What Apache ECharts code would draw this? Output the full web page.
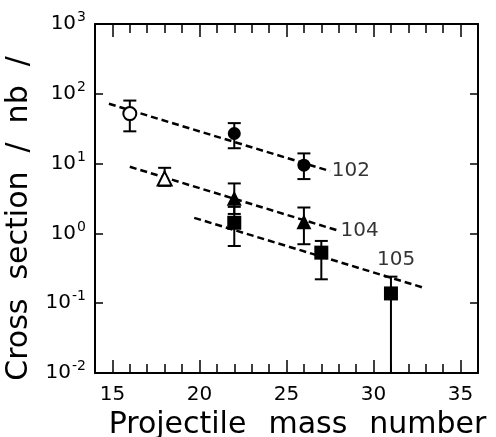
<!DOCTYPE html>
<html>
<head>
<meta charset="utf-8">
<script src="https://cdn.jsdelivr.net/npm/echarts@6/dist/echarts.min.js"></script>
<style>
html, body { margin: 0; padding: 0; background: #fff; }
#main { width: 496px; height: 437px; }
</style>
</head>
<body>
<div id="main"></div>
<script>
// x tick labels
const xLabels = [15, 20, 25, 30, 35];
const xMinor = [14, 15, 16, 17, 18, 19, 20, 21, 22, 23, 24, 25, 26, 27, 28, 29, 30, 31, 32, 33, 34, 35, 36];

// measured points: [mass number, cross section nb]
const openCircle = [[16, 52]];
const fullCircle = [[22, 27], [26, 9.5]];
const openTriangle = [[18, 6.1]];
const fullTriangle = [[22, 3.2], [26, 1.47]];
const fullSquare = [[22, 1.42], [27, 0.53], [31, 0.138]];

// error bars: [x, low, high]
const errBars = [
  [16, 29, 80],
  [22, 16.6, 38],
  [26, 6, 14],
  [18, 4.8, 8.7],
  [22, 1.9, 5.2],
  [26, 0.70, 2.35],
  [22, 0.66, 2.4],
  [27, 0.22, 0.78],
  [31, 0.01, 0.24]
];

// dashed trend lines (end points)
const line102 = [[14.8, 72], [27.5, 7.8]];
const line104 = [[16.0, 9.0], [27.9, 1.11]];
const line105 = [[19.7, 1.67], [32.9, 0.166]];

// element labels
const tags = [
  { name: '102', value: [27.6, 7.8], pos: 'right' },
  { name: '104', value: [28.1, 1.08], pos: 'right' },
  { name: '105', value: [31.3, 0.42], pos: 'inside' }
];

const font = 'DejaVu Sans';
const black = '#000';

function xAx(pos, ticks, len, showLine, showLabel) {
  return {
    type: 'value', position: pos, min: 14, max: 36, interval: 1,
    axisLine: { show: showLine, lineStyle: { color: black, width: 2 } },
    axisTick: { show: true, inside: true, length: len, customValues: ticks, lineStyle: { color: black, width: 1.5 } },
    axisLabel: {
      show: showLabel, customValues: xLabels, margin: 12,
      color: black, fontFamily: font, fontSize: 20
    },
    splitLine: { show: false }
  };
}

function yAx(pos, showLabel) {
  return {
    type: 'log', logBase: 10, position: pos, min: 0.01, max: 1000,
    axisLine: { show: true, lineStyle: { color: black, width: 2 } },
    axisTick: { show: true, inside: true, length: 8, lineStyle: { color: black, width: 1.5 } },
    minorTick: { show: false },
    splitLine: { show: false },
    axisLabel: {
      show: showLabel, margin: 9, color: black, fontFamily: font, fontSize: 20,
      formatter: function (v) {
        const e = Math.round(Math.log10(v));
        return '{b|10}{s|' + e + '}';
      },
      rich: {
        b: { color: black, fontFamily: font, fontSize: 20 },
        s: { color: black, fontFamily: font, fontSize: 14, padding: [0, 0, 13, 1] }
      }
    }
  };
}

const dash = { color: black, width: 2.5, type: [7, 4] };
function trend(d) {
  return { type: 'line', data: d, symbol: 'none', lineStyle: dash, silent: true, z: 2 };
}

function marker(d, symbol, size, filled) {
  return {
    type: 'scatter', data: d, symbol: symbol, symbolSize: size, z: 5,
    itemStyle: { color: filled ? black : '#fff', borderColor: black, borderWidth: filled ? 0 : 2, opacity: 1 }
  };
}

const nameFont = { color: black, fontFamily: font, fontSize: 30 };

let option = {
  backgroundColor: '#fff',
  animation: false,
  grid: { left: 95, right: 18, top: 24, bottom: 64, containLabel: false, outerBoundsMode: 'none' },
  xAxis: [
    Object.assign(xAx('bottom', xMinor, 9, true, true), {
      name: '{t|Projectile}{g| }{t|mass}{g| }{t|number}',
      nameLocation: 'middle', nameGap: 26,
      nameTextStyle: {
        padding: [0, 0, 0, 22],
        rich: { t: nameFont, g: { fontSize: 30, width: 22 } }
      }
    }),
    xAx('bottom', xLabels, 13, false, false),
    xAx('top', xMinor, 9, true, false),
    xAx('top', xLabels, 13, false, false)
  ],
  yAxis: [
    Object.assign(yAx('left', true), {
      name: '{t|Cross}{g| }{t|section}{g| }{t|/}{g| }{t|nb}{g| }{t|/}',
      nameLocation: 'middle', nameGap: 56,
      nameTextStyle: {
        padding: [0, 40, 0, 0],
        rich: { t: { color: black, fontFamily: font, fontSize: 30 }, g: { fontSize: 30, width: 19 } }
      }
    }),
    yAx('right', false)
  ],
  series: [
    trend(line102),
    trend(line104),
    trend(line105),
    {
      type: 'custom',
      data: errBars,
      z: 4,
      renderItem: function (params, api) {
        const x = api.value(0);
        const lo = api.coord([x, api.value(1)]);
        const hi = api.coord([x, api.value(2)]);
        const w = 6.5;
        const st = { stroke: black, lineWidth: 2 };
        return {
          type: 'group',
          children: [
            { type: 'line', shape: { x1: lo[0], y1: lo[1], x2: hi[0], y2: hi[1] }, style: st },
            { type: 'line', shape: { x1: hi[0] - w, y1: hi[1], x2: hi[0] + w, y2: hi[1] }, style: st },
            { type: 'line', shape: { x1: lo[0] - w, y1: lo[1], x2: lo[0] + w, y2: lo[1] }, style: st }
          ]
        };
      }
    },
    marker(openCircle, 'circle', 13, false),
    marker(fullCircle, 'circle', 13, true),
    marker(openTriangle, 'triangle', 14, false),
    marker(fullTriangle, 'triangle', 15, true),
    marker(fullSquare, 'rect', 14, true),
    {
      type: 'scatter',
      symbolSize: 0,
      z: 6,
      data: tags.map(t => ({
        name: t.name, value: t.value,
        label: { show: true, position: t.pos, distance: 0, formatter: '{b}', color: black, fontFamily: font, fontSize: 20 }
      }))
    }
  ]
};

let chartDom = document.getElementById('main');
let myChart = echarts.init(chartDom);
option && myChart.setOption(option);
</script>
</body>
</html>
